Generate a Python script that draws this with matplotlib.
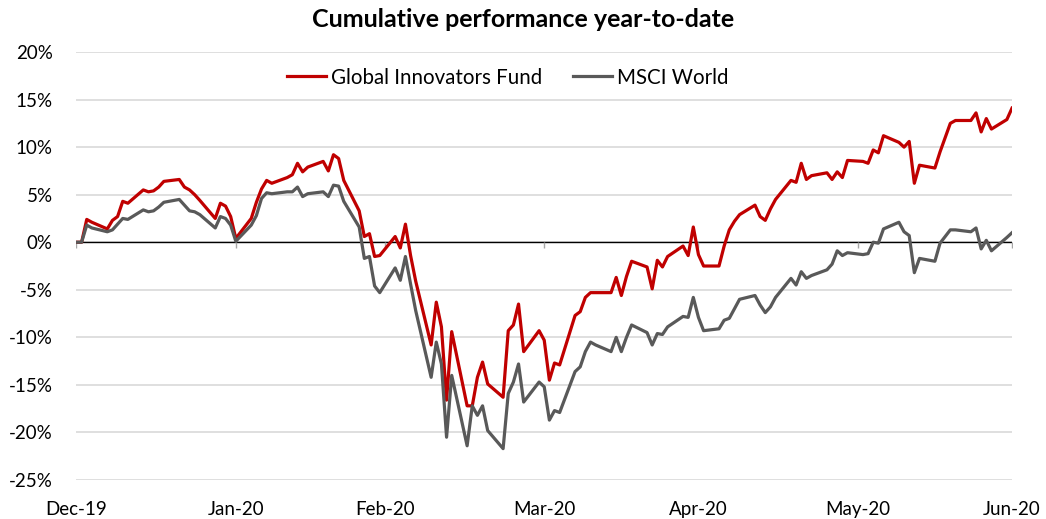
import matplotlib
matplotlib.use('Agg')
import matplotlib.pyplot as plt
import matplotlib.dates as mdates
from matplotlib.ticker import PercentFormatter, MultipleLocator
import pandas as pd

plt.rcParams['font.family'] = ['Lato', 'DejaVu Sans']
plt.rcParams['axes.unicode_minus'] = False

# business days, 31 Dec 2019 .. 30 Jun 2020
dates = pd.bdate_range('2019-12-31', '2020-06-30')
month_ends = pd.to_datetime(['2019-12-31', '2020-01-31', '2020-02-29', '2020-03-31',
                             '2020-04-30', '2020-05-31', '2020-06-30'])

# cumulative performance, %
fund = ([0.0] +
        [0.0, 2.4, 2.1, 1.4, 2.3, 2.7, 4.3, 4.1, 5.5, 5.3, 5.4, 5.8, 6.4, 6.6, 5.8, 5.5,
         5.0, 4.4, 2.5, 4.1, 3.8, 2.7, 0.4] +
        [2.5, 4.2, 5.6, 6.5, 6.2, 6.8, 7.1, 8.3, 7.4, 7.9, 8.5, 7.5, 9.2, 8.8, 6.5, 3.3,
         0.6, 0.9, -1.5, -1.4] +
        [0.6, -0.6, 1.9, -1.4, -4.1, -10.8, -6.3, -8.9, -16.6, -9.4, -17.2, -17.2, -14.2,
         -12.6, -14.9, -16.3, -9.3, -8.7, -6.5, -11.5, -9.3, -10.3] +
        [-14.5, -12.7, -12.9, -7.7, -7.3, -5.8, -5.3, -5.3, -5.3, -3.7, -5.6, -3.6, -2.0,
         -2.6, -4.9, -1.9, -2.6, -1.5, -0.4, -1.4, 1.6, -1.3] +
        [-2.5, -2.5, -0.4, 1.3, 2.2, 2.9, 3.9, 2.7, 2.3, 3.5, 4.5, 6.5, 6.3, 8.3, 6.6, 7.0,
         7.3, 6.6, 7.4, 6.8, 8.6] +
        [8.5, 8.3, 9.7, 9.4, 11.2, 10.5, 10.0, 10.6, 6.2, 8.1, 7.8, 9.5, 11.0, 12.5, 12.8,
         12.8, 13.6, 11.6, 13.0, 11.9, 12.9, 14.1])

msci = ([0.0] +
        [0.0, 1.8, 1.5, 1.1, 1.3, 1.9, 2.5, 2.4, 3.4, 3.2, 3.3, 3.7, 4.2, 4.5, 3.9, 3.3,
         3.2, 2.9, 1.5, 2.7, 2.5, 1.8, 0.1] +
        [1.8, 2.8, 4.6, 5.2, 5.1, 5.3, 5.3, 5.8, 4.8, 5.1, 5.3, 4.8, 6.0, 5.9, 4.3, 1.6,
         -1.7, -1.5, -4.6, -5.3] +
        [-2.7, -4.0, -1.5, -4.4, -7.2, -14.2, -10.5, -12.8, -20.5, -14.0, -21.4, -17.2,
         -18.2, -17.2, -19.8, -21.7, -15.9, -14.7, -12.8, -16.8, -14.7, -15.2] +
        [-18.7, -17.7, -17.9, -13.6, -13.1, -11.5, -10.5, -10.8, -11.5, -10.0, -11.5, -10.0,
         -8.7, -9.5, -10.8, -9.6, -9.7, -8.9, -7.8, -7.9, -5.8, -7.9] +
        [-9.3, -9.1, -8.2, -8.0, -7.0, -6.0, -5.6, -6.6, -7.4, -6.8, -5.8, -3.8, -4.5, -3.1,
         -3.8, -3.5, -2.9, -2.3, -0.9, -1.4, -1.1] +
        [-1.3, -1.2, 0.0, -0.1, 1.4, 2.1, 1.1, 0.7, -3.2, -1.7, -2.0, -0.1, 0.6, 1.3, 1.3,
         1.1, 1.5, -0.7, 0.2, -0.9, 0.5, 1.0])

FUND_COLOR = '#C00000'
MSCI_COLOR = '#595959'
FONT_SIZE = 13.5

fig = plt.figure(figsize=(10.46, 5.19), dpi=100)
ax = fig.add_axes([0.0731, 0.0751, 0.8944, 0.8247])

ax.plot(dates, fund, color=FUND_COLOR, lw=2.3, label='Global Innovators Fund', zorder=3)
ax.plot(dates, msci, color=MSCI_COLOR, lw=2.3, label='MSCI World', zorder=3)
ax.axhline(0, color='black', lw=1.0, zorder=2)
# small tick marks hanging from the zero line
ax.plot(month_ends, [0] * len(month_ends), ls='none', marker=3, ms=4, mew=1,
        color='#a6a6a6', zorder=2)

ax.set_ylim(-25, 20)
ax.yaxis.set_major_locator(MultipleLocator(5))
ax.yaxis.set_major_formatter(PercentFormatter(decimals=0))
ax.set_xlim(dates[0], dates[-1])
ax.set_xticks(month_ends)
ax.xaxis.set_major_formatter(mdates.DateFormatter('%b-%y'))

ax.grid(axis='y', color='#d9d9d9', lw=1.2)
ax.set_axisbelow(True)
for spine in ax.spines.values():
    spine.set_visible(False)
ax.tick_params(axis='both', length=0, labelsize=FONT_SIZE, colors='black')
ax.tick_params(axis='y', pad=17)
ax.tick_params(axis='x', pad=15)

ax.legend(loc='center', bbox_to_anchor=(0.461, 0.94), ncol=2, frameon=False,
          fontsize=14.8, handlelength=1.9, handletextpad=0.25, columnspacing=1.5)

fig.text(0.5, 0.963, 'Cumulative performance year-to-date', ha='center', va='center',
         fontsize=18, fontweight='bold')

fig.savefig('out.png', dpi=100)
